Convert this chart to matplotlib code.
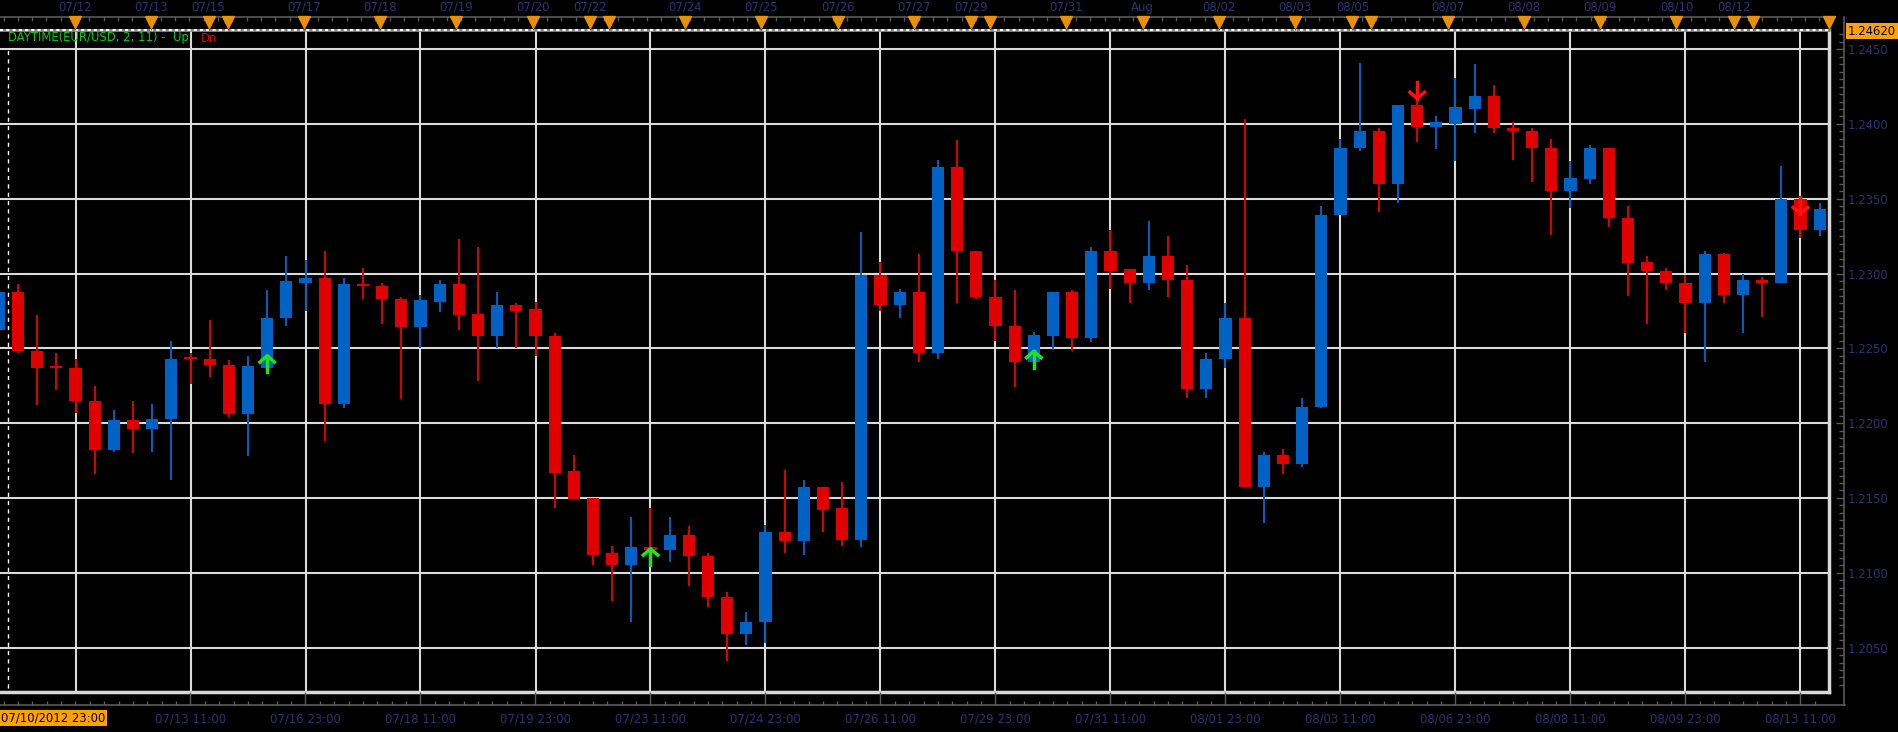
import numpy as np
import matplotlib
matplotlib.use("Agg")
import matplotlib.pyplot as plt
from matplotlib.ticker import MultipleLocator, FixedLocator, FixedFormatter
import matplotlib.transforms as mtransforms

# 12h-style candles, index 0 = first gridline
bar_idx = np.arange(-4, 92)
opens = [1.2262, 1.2288, 1.2248, 1.2238, 1.2237, 1.2215, 1.2182, 1.2202, 1.2196, 1.2203,
         1.2244, 1.2243, 1.2239, 1.2206, 1.2237, 1.2270, 1.2294, 1.2297, 1.2213, 1.2293,
         1.2292, 1.2283, 1.2264, 1.2281, 1.2293, 1.2273, 1.2258, 1.2279, 1.2276, 1.2258,
         1.2168, 1.2150, 1.2113, 1.2105, 1.2117, 1.2115, 1.2125, 1.2111, 1.2084, 1.2059,
         1.2067, 1.2127, 1.2121, 1.2157, 1.2143, 1.2122, 1.2299, 1.2279, 1.2288, 1.2247,
         1.2371, 1.2315, 1.2284, 1.2265, 1.2241, 1.2258, 1.2288, 1.2257, 1.2315, 1.2303,
         1.2294, 1.2312, 1.2296, 1.2223, 1.2243, 1.2270, 1.2157, 1.2179, 1.2173, 1.2211,
         1.2339, 1.2384, 1.2395, 1.2360, 1.2413, 1.2398, 1.2400, 1.2410, 1.2419, 1.2397,
         1.2395, 1.2384, 1.2355, 1.2363, 1.2384, 1.2337, 1.2308, 1.2302, 1.2294, 1.2280,
         1.2313, 1.2286, 1.2296, 1.2294, 1.2350, 1.2329]
highs = [1.2290, 1.2293, 1.2272, 1.2247, 1.2243, 1.2225, 1.2209, 1.2215, 1.2213, 1.2255,
         1.2247, 1.2269, 1.2242, 1.2245, 1.2289, 1.2312, 1.2309, 1.2315, 1.2297, 1.2304,
         1.2294, 1.2284, 1.2286, 1.2296, 1.2323, 1.2318, 1.2288, 1.2280, 1.2281, 1.2260,
         1.2179, 1.2150, 1.2118, 1.2137, 1.2143, 1.2137, 1.2131, 1.2113, 1.2087, 1.2074,
         1.2132, 1.2169, 1.2162, 1.2157, 1.2161, 1.2328, 1.2308, 1.2290, 1.2313, 1.2376,
         1.2389, 1.2315, 1.2296, 1.2289, 1.2261, 1.2288, 1.2289, 1.2318, 1.2329, 1.2303,
         1.2335, 1.2325, 1.2306, 1.2247, 1.2280, 1.2403, 1.2181, 1.2183, 1.2217, 1.2345,
         1.2390, 1.2441, 1.2397, 1.2413, 1.2428, 1.2405, 1.2431, 1.2440, 1.2426, 1.2401,
         1.2397, 1.2390, 1.2375, 1.2386, 1.2384, 1.2345, 1.2312, 1.2304, 1.2299, 1.2315,
         1.2314, 1.2300, 1.2298, 1.2372, 1.2350, 1.2347]
lows = [1.2260, 1.2247, 1.2212, 1.2222, 1.2207, 1.2166, 1.2181, 1.2180, 1.2181, 1.2162,
        1.2226, 1.2231, 1.2204, 1.2178, 1.2237, 1.2265, 1.2275, 1.2188, 1.2210, 1.2283,
        1.2266, 1.2216, 1.2250, 1.2274, 1.2262, 1.2228, 1.2250, 1.2250, 1.2245, 1.2143,
        1.2149, 1.2105, 1.2081, 1.2067, 1.2106, 1.2107, 1.2091, 1.2077, 1.2041, 1.2052,
        1.2053, 1.2113, 1.2112, 1.2127, 1.2118, 1.2117, 1.2275, 1.2270, 1.2241, 1.2243,
        1.2280, 1.2283, 1.2255, 1.2224, 1.2240, 1.2249, 1.2248, 1.2254, 1.2290, 1.2280,
        1.2289, 1.2284, 1.2217, 1.2217, 1.2237, 1.2157, 1.2133, 1.2166, 1.2171, 1.2210,
        1.2339, 1.2382, 1.2341, 1.2347, 1.2388, 1.2383, 1.2375, 1.2394, 1.2394, 1.2376,
        1.2361, 1.2326, 1.2344, 1.2360, 1.2331, 1.2285, 1.2266, 1.2289, 1.2260, 1.2241,
        1.2280, 1.2260, 1.2271, 1.2294, 1.2324, 1.2325]
closes = [1.2288, 1.2248, 1.2237, 1.2237, 1.2215, 1.2182, 1.2202, 1.2196, 1.2203, 1.2243,
          1.2243, 1.2239, 1.2206, 1.2238, 1.2270, 1.2295, 1.2297, 1.2213, 1.2293, 1.2292,
          1.2283, 1.2264, 1.2282, 1.2293, 1.2272, 1.2258, 1.2279, 1.2275, 1.2258, 1.2167,
          1.2149, 1.2112, 1.2105, 1.2117, 1.2115, 1.2125, 1.2111, 1.2084, 1.2059, 1.2067,
          1.2127, 1.2121, 1.2157, 1.2142, 1.2122, 1.2299, 1.2279, 1.2288, 1.2247, 1.2371,
          1.2315, 1.2284, 1.2265, 1.2241, 1.2259, 1.2288, 1.2257, 1.2315, 1.2302, 1.2294,
          1.2312, 1.2296, 1.2223, 1.2243, 1.2270, 1.2157, 1.2179, 1.2173, 1.2211, 1.2339,
          1.2384, 1.2395, 1.2360, 1.2413, 1.2398, 1.2401, 1.2411, 1.2419, 1.2397, 1.2395,
          1.2384, 1.2355, 1.2364, 1.2384, 1.2337, 1.2307, 1.2302, 1.2294, 1.2280, 1.2313,
          1.2286, 1.2296, 1.2294, 1.2350, 1.2329, 1.2343]

# indicator signals
up_sig_idx = [10, 30, 50]
up_sig_px = [1.2245, 1.2116, 1.2248]
dn_sig_idx = [70, 90]
dn_sig_px = [1.2417, 1.2340]

# top date scale
day_idx = [0, 4, 7, 8, 12, 16, 20, 24, 27, 28, 32, 36, 40, 44, 47, 48, 52, 56, 60,
           64, 67, 68, 72, 76, 80, 84, 87, 88, 92]
day_labels = ['07/12', '07/13', '07/15', '', '07/17', '07/18', '07/19', '07/20', '07/22', '',
              '07/24', '07/25', '07/26', '07/27', '07/29', '', '07/31', 'Aug', '08/02',
              '08/03', '08/05', '', '08/07', '08/08', '08/09', '08/10', '08/12', '', '']

# bottom time scale
time_idx = list(range(6, 91, 6))
time_labels = ['07/13 11:00', '07/16 23:00', '07/18 11:00', '07/19 23:00', '07/23 11:00',
               '07/24 23:00', '07/26 11:00', '07/29 23:00', '07/31 11:00', '08/01 23:00',
               '08/03 11:00', '08/06 23:00', '08/08 11:00', '08/09 23:00', '08/13 11:00']
price_grid = [1.2050, 1.2100, 1.2150, 1.2200, 1.2250, 1.2300, 1.2350, 1.2400, 1.2450]
last_price = 1.24620
cursor_idx = -3.5
cursor_label = '07/10/2012 23:00'

W, H = 1898, 732
PX = 72 / 100  # px -> pt
bar_px = 115 / 6
UP, DN = '#0062C4', '#E00000'
LBL = '#2E3173'
AXC = '#5A5A5A'
ORANGE = '#FFA200'
FS = 8.4

fig = plt.figure(figsize=(W / 100, H / 100), dpi=100, facecolor='black')
ax = fig.add_axes([0, (H - 692) / H, 1829 / W, 662 / H])
ax.set_facecolor('black')
xlim = (-75.5 / bar_px, (1829 - 75.5) / bar_px)
x_end = (1845 - 75.5) / bar_px
ylim = (1.20203, 1.24628)
ax.set_xlim(xlim)
ax.set_ylim(ylim)

ax.set_xticks([0] + time_idx)
ax.set_yticks(price_grid)
ax.grid(color='#DADADA', lw=1.5)
ax.set_axisbelow(True)
ax.tick_params(length=0, labelbottom=False, labelleft=False)
ax.spines['left'].set_visible(False)
for s in ['bottom', 'right']:
    ax.spines[s].set_color('#D8D8D8')
    ax.spines[s].set_linewidth(2.5)
ax.spines['top'].set_color('#8A8A8A')
ax.spines['top'].set_linewidth(2)
ax.plot([0, 1], [1, 1], transform=ax.transAxes, color='white', lw=1.5,
        ls=(0, (1.5, 1.5)), clip_on=False, zorder=5)

# candles
o = np.array(opens); h = np.array(highs); l = np.array(lows); c = np.array(closes)
cols = np.where(c >= o, UP, DN)
ax.vlines(bar_idx, l, h, colors=cols, lw=1.4, zorder=3)
body = np.maximum(np.abs(c - o), 0.00012)
ax.bar(bar_idx, body, bottom=np.minimum(o, c), width=0.63, color=cols, lw=0, zorder=4)

# signal arrows
for k, p in zip(up_sig_idx, up_sig_px):
    ax.plot([k - 0.38, k, k + 0.38], [p - 0.00042, p, p - 0.00042], color='#22E022', lw=2.5, zorder=6)
    ax.plot([k, k], [p, p - 0.0011], color='#22E022', lw=2.5, zorder=6)
for k, p in zip(dn_sig_idx, dn_sig_px):
    ax.plot([k - 0.38, k, k + 0.38], [p + 0.00042, p, p + 0.00042], color='#FF1010', lw=2.5, zorder=6)
    ax.plot([k, k], [p, p + 0.0011], color='#FF1010', lw=2.5, zorder=6)

# cursor line
ax.vlines(cursor_idx, ylim[0] + 0.0003, price_grid[-1], colors='white', lw=1,
          linestyles=(0, (3, 3)), zorder=5)

ax.annotate('DAYTIME(EUR/USD, 2, 11) -  Up', xy=(0, 1), xycoords='axes fraction',
            xytext=(8, -8), textcoords='offset pixels', color='#00D000', fontsize=8.4,
            va='center', ha='left')
ax.annotate('Dn', xy=(0, 1), xycoords='axes fraction',
            xytext=(201, -8), textcoords='offset pixels', color=DN, fontsize=8.4,
            va='center', ha='left')

# price axis
ay = ax.twinx()
ay.set_ylim(ylim)
for s in ['left', 'top', 'bottom']:
    ay.spines[s].set_visible(False)
ay.spines['right'].set_position(('outward', 15 * PX))
ay.spines['right'].set_color(AXC)
ay.spines['right'].set_linewidth(1.2)
ay.spines['right'].set_bounds(ylim[0] - 13 / 14960, ylim[1] + 13 / 14960)
ay.yaxis.set_major_locator(FixedLocator(price_grid))
ay.yaxis.set_major_formatter(FixedFormatter(['%.4f' % v for v in price_grid]))
ay.yaxis.set_minor_locator(MultipleLocator(0.0005))
ay.tick_params(axis='y', which='major', direction='in', length=8 * PX, width=1, color=AXC,
               labelcolor=LBL, labelsize=FS, pad=4 * PX)
ay.tick_params(axis='y', which='minor', direction='in', length=5 * PX, width=1, color=AXC)
ay.annotate('%.5f' % last_price, xy=(1, last_price), xycoords=('axes fraction', 'data'),
            xytext=(19, 0), textcoords='offset pixels', fontsize=FS, color='black',
            va='center', ha='left',
            bbox=dict(boxstyle='square,pad=0.15', fc=ORANGE, ec='none'))

# bottom time axis
axb = ax.twiny()
axb.set_xlim(xlim)
axb.xaxis.set_ticks_position('bottom')
axb.xaxis.set_label_position('bottom')
for s in ['left', 'top', 'right']:
    axb.spines[s].set_visible(False)
axb.spines['bottom'].set_position(('outward', 13 * PX))
axb.spines['bottom'].set_color(AXC)
axb.spines['bottom'].set_linewidth(1.2)
axb.spines['bottom'].set_bounds(xlim[0], x_end)
axb.set_xticks(time_idx, labels=time_labels)
axb.xaxis.set_minor_locator(MultipleLocator(0.75))
axb.tick_params(axis='x', which='major', direction='in', length=13 * PX, width=1, color=AXC,
                labelcolor=LBL, labelsize=FS, pad=8 * PX)
axb.tick_params(axis='x', which='minor', direction='in', length=4 * PX, width=1, color=AXC)
axb.annotate(cursor_label, xy=(0, 0), xycoords='axes fraction', xytext=(1, -26),
             textcoords='offset pixels', fontsize=FS, color='black', va='center', ha='left',
             bbox=dict(boxstyle='square,pad=0.15', fc=ORANGE, ec='none'))

# top date axis
axt = ax.twiny()
axt.set_xlim(xlim)
for s in ['left', 'bottom', 'right']:
    axt.spines[s].set_visible(False)
axt.spines['top'].set_position(('outward', 13 * PX))
axt.spines['top'].set_color(AXC)
axt.spines['top'].set_linewidth(1.2)
axt.spines['top'].set_bounds(xlim[0], x_end)
axt.set_xticks(day_idx, labels=day_labels)
axt.xaxis.set_minor_locator(MultipleLocator(0.75))
axt.tick_params(axis='x', which='major', direction='in', length=13 * PX, width=1, color=AXC,
                labelcolor=LBL, labelsize=FS, pad=3 * PX)
axt.tick_params(axis='x', which='minor', direction='in', length=4 * PX, width=1, color=AXC)
tr = mtransforms.blended_transform_factory(axt.transData, fig.transFigure)
axt.plot(day_idx, [(H - 22) / H] * len(day_idx), 'v', color='#E8900A', markersize=8,
         transform=tr, clip_on=False, zorder=10)

fig.savefig('out.png', dpi=100, facecolor='black')
